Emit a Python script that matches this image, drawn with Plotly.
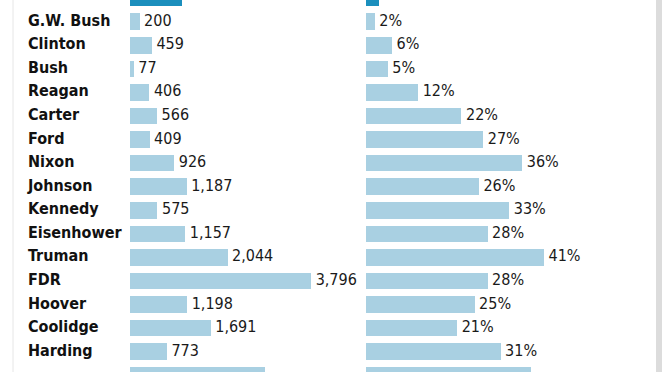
import plotly.graph_objects as go

presidents = ["Obama", "G.W. Bush", "Clinton", "Bush", "Reagan", "Carter", "Ford",
              "Nixon", "Johnson", "Kennedy", "Eisenhower", "Truman", "FDR",
              "Hoover", "Coolidge", "Harding", "Wilson"]
counts = [1093, 200, 459, 77, 406, 566, 409, 926, 1187, 575, 1157, 2044, 3796,
          1198, 1691, 773, 2827]
shares = [3, 2, 6, 5, 12, 22, 27, 36, 26, 33, 28, 41, 28, 25, 21, 31, 38]

DARK = "#1b8fbd"
LIGHT = "#a9d0e2"
colors = [DARK if p == "Obama" else LIGHT for p in presidents]

W, H = 672, 372
FONT = "DejaVu Sans Condensed, Liberation Sans Narrow, DejaVu Sans, sans-serif"
TEXTFONT = dict(family=FONT, size=16, color="#1a1a1a")
NBSP = "\u00a0"

fig = go.Figure()

# bars
fig.add_trace(go.Bar(x=counts, y=presidents, orientation="h",
                     marker=dict(color=colors, line=dict(width=0)),
                     width=0.7, xaxis="x", yaxis="y", showlegend=False, hoverinfo="skip"))
fig.add_trace(go.Bar(x=shares, y=presidents, orientation="h",
                     marker=dict(color=colors, line=dict(width=0)),
                     width=0.7, xaxis="x2", yaxis="y", showlegend=False, hoverinfo="skip"))

# value labels
fig.add_trace(go.Scatter(x=counts, y=presidents, mode="text",
                         text=[f"{NBSP}{v:,}" for v in counts], textposition="middle right",
                         textfont=TEXTFONT, cliponaxis=False, xaxis="x", yaxis="y",
                         showlegend=False, hoverinfo="skip"))
fig.add_trace(go.Scatter(x=shares, y=presidents, mode="text",
                         text=[f"{NBSP}{v}%" for v in shares], textposition="middle right",
                         textfont=TEXTFONT, cliponaxis=False, xaxis="x2", yaxis="y",
                         showlegend=False, hoverinfo="skip"))

# president names
fig.add_trace(go.Scatter(x=[0] * len(presidents), y=presidents, mode="text",
                         text=[f"<b>{p}</b>" for p in presidents], textposition="middle right",
                         textfont=dict(family=FONT, size=16, color="#111111"),
                         cliponaxis=False, xaxis="x3", yaxis="y",
                         showlegend=False, hoverinfo="skip"))

px_per_count = 0.0477
px_per_pct = 4.34
l0, l1 = 130, 350
r0, r1 = 366, 655
n0, n1 = 28, 120

yrange = [15.86, 0.08]

fig.update_layout(
    width=W, height=H, margin=dict(l=0, r=0, t=0, b=0),
    paper_bgcolor="white", plot_bgcolor="white",
    bargap=0,
    xaxis=dict(domain=[l0 / W, l1 / W], range=[0, (l1 - l0) / px_per_count],
               visible=False, anchor="y"),
    xaxis2=dict(domain=[r0 / W, r1 / W], range=[0, (r1 - r0) / px_per_pct],
                visible=False, anchor="y"),
    xaxis3=dict(domain=[n0 / W, n1 / W], range=[0, 1], visible=False, anchor="y"),
    yaxis=dict(range=yrange, visible=False, type="category",
               categoryorder="array", categoryarray=presidents, domain=[0, 1]),
)

# frame edges
fig.add_shape(type="line", xref="paper", yref="paper", x0=13 / W, x1=13 / W, y0=0, y1=1,
              line=dict(color="#e6e6e6", width=1))
fig.add_shape(type="rect", xref="paper", yref="paper", x0=656 / W, x1=662 / W, y0=0, y1=1,
              fillcolor="#dcdcdc", line=dict(width=0))

fig.write_html("out.html", config={"displayModeBar": False},
               post_script="document.body.style.margin='0';document.body.style.overflow='hidden';")
